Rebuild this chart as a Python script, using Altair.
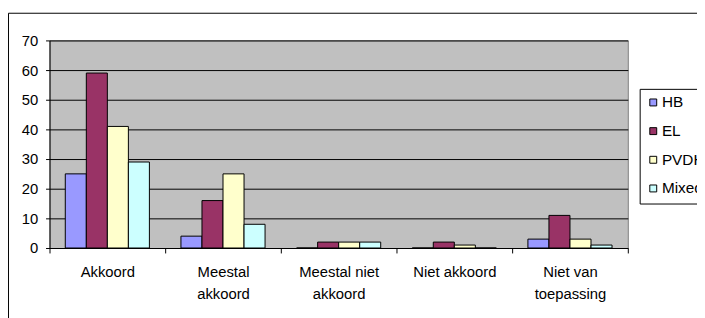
import altair as alt
import pandas as pd

categories = ["Akkoord", "Meestal|akkoord", "Meestal niet|akkoord", "Niet akkoord", "Niet van|toepassing"]
series = ["HB", "EL", "PVDH", "Mixed"]
hb = [25, 4, 0, 0, 3]
el = [59, 16, 2, 2, 11]
pvdh = [41, 25, 2, 1, 3]
mixed = [29, 8, 2, 0, 1]
colors = ["#9999FF", "#993366", "#FFFFCC", "#CCFFFF"]
y_ticks = [0, 10, 20, 30, 40, 50, 60, 70]

rows = []
for s, vals in zip(series, [hb, el, pvdh, mixed]):
    for c, v in zip(categories, vals):
        rows.append({"cat": c, "series": s, "value": v})
df = pd.DataFrame(rows)

FONT = "Liberation Sans"

frame = alt.Chart(pd.DataFrame({"a": [0]})).mark_rect(
    fill="white", fillOpacity=0, stroke="black", strokeWidth=1
).encode(
    x=alt.value(-41.5), x2=alt.value(800), y=alt.value(-27.5), y2=alt.value(400)
)

bars = alt.Chart(df).mark_bar(stroke="black", strokeWidth=1).encode(
    x=alt.X(
        "cat:N",
        sort=categories,
        scale=alt.Scale(paddingInner=0, paddingOuter=0),
        axis=alt.Axis(
            title=None, labelAngle=0, labelExpr="split(datum.label, '|')",
            tickBand="extent", tickSize=5, tickColor="black", domainColor="black",
            labelFont=FONT, labelFontSize=15, labelColor="black", labelLineHeight=22,
            labelPadding=12, grid=False, labelBaseline="top",
        ),
    ),
    xOffset=alt.XOffset("series:N", sort=series, scale=alt.Scale(paddingOuter=0.75, paddingInner=0)),
    y=alt.Y(
        "value:Q",
        scale=alt.Scale(domain=[0, 70], nice=False),
        axis=alt.Axis(
            values=y_ticks, title=None, grid=True, gridColor="black", gridOpacity=1,
            tickColor="black", domainColor="black", tickSize=4, labelPadding=8,
            labelFont=FONT, labelFontSize=15, labelColor="black",
        ),
    ),
    color=alt.Color(
        "series:N",
        sort=series,
        scale=alt.Scale(domain=series, range=colors),
        legend=alt.Legend(
            title=None, orient="none", legendX=597, legendY=49,
            strokeColor="black", fillColor="white", padding=6,
            symbolType="square", symbolSize=49, symbolStrokeColor="black",
            symbolStrokeWidth=1, symbolOpacity=1, labelFont=FONT, labelFontSize=15.5,
            labelColor="black", rowPadding=12, labelOffset=1, cornerRadius=0,
        ),
    ),
)

chart = alt.layer(frame, bars).properties(
    width=585, height=210,
    autosize=alt.AutoSizeParams(type="none"),
    padding={"left": 42, "top": 31, "right": 70, "bottom": 69},
    background="white",
).configure_view(
    fill="#C0C0C0", stroke="#808080", strokeWidth=1
)

chart.save("out.html", embed_options={"renderer": "svg", "actions": False})
